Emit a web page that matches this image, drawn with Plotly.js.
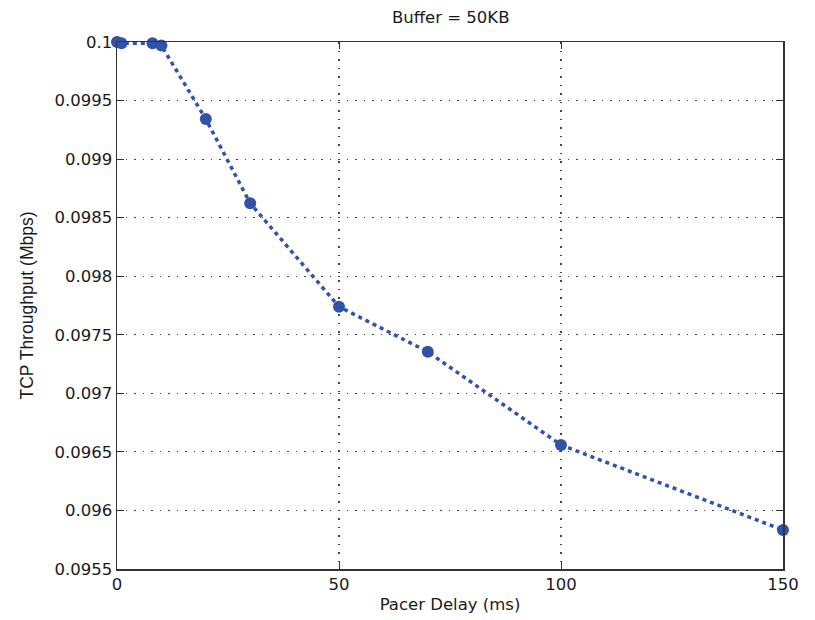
<!DOCTYPE html>
<html>
<head>
<meta charset="utf-8">
<script src="https://cdn.plot.ly/plotly-3.0.1.min.js"></script>
<style>html,body{margin:0;padding:0;background:#fff;}#chart{width:815px;height:620px;}</style>
</head>
<body>
<div id="chart"></div>
<script>
const pacerDelay = [0, 1, 8, 10, 20, 30, 50, 70, 100, 150];
const throughput = [0.1, 0.09999, 0.09999, 0.09997, 0.099342, 0.098623, 0.09774, 0.097355, 0.096559, 0.095833];
const yTickVals = [0.0955, 0.096, 0.0965, 0.097, 0.0975, 0.098, 0.0985, 0.099, 0.0995, 0.1];
const yTickText = ["0.0955", "0.096", "0.0965", "0.097", "0.0975", "0.098", "0.0985", "0.099", "0.0995", "0.1"];
const xTickVals = [0, 50, 100, 150];
const xTickText = ["0", "50", "100", "150"];

const WIDE = 'DejaVu Sans, sans-serif';
const NARROW = 'Liberation Sans, Arial, sans-serif';
const trace = {
  x: pacerDelay, y: throughput, type: 'scatter', mode: 'lines+markers',
  line: {color: '#3052a8', width: 3.5, dash: '4px,4px'},
  marker: {color: '#3052a8', size: 12},
  cliponaxis: false, showlegend: false
};
const axisCommon = {
  showline: true, linecolor: '#333', linewidth: 1.5, mirror: 'ticks',
  ticks: 'inside', ticklen: 7, tickcolor: '#333', tickwidth: 1,
  showgrid: true, gridcolor: '#444', griddash: '1.5px,7px', gridwidth: 1.2,
  zeroline: false, tickfont: {family: WIDE, size: 16.5, color: '#1a1a1a'}
};
const layout = {
  width: 815, height: 620,
  margin: {l: 117, r: 32, t: 42, b: 51},
  paper_bgcolor: '#fff', plot_bgcolor: '#fff',
  title: {text: 'Buffer = 50KB', x: 0.553, xanchor: 'center', y: 0.972, yanchor: 'middle',
          font: {family: WIDE, size: 16.5, color: '#1a1a1a'}},
  xaxis: Object.assign({}, axisCommon, {
    range: [0, 150], tickvals: xTickVals, ticktext: xTickText,
    title: {text: 'Pacer Delay (ms)', standoff: 5, font: {family: WIDE, size: 16.5, color: '#1a1a1a'}}
  }),
  yaxis: Object.assign({}, axisCommon, {
    range: [0.0955, 0.1], tickvals: yTickVals, ticktext: yTickText,
    title: {text: 'TCP Throughput (Mbps)', standoff: 16, font: {family: NARROW, size: 17.5, color: '#1a1a1a'}}
  })
};
Plotly.newPlot('chart', [trace], layout, {staticPlot: true, displayModeBar: false});
</script>
</body>
</html>
